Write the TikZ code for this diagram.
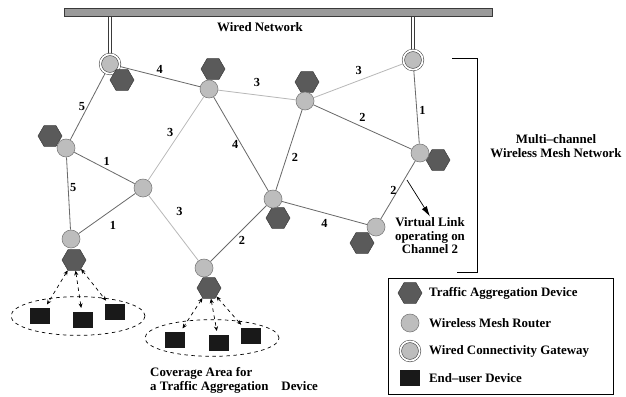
\documentclass[tikz,border=0pt]{standalone}
\usepackage{fontspec}
\setmainfont{Liberation Serif}
\usetikzlibrary{arrows.meta, shapes.geometric, calc, positioning, backgrounds}

\definecolor{hexfill}{HTML}{5A5A5A}
\definecolor{hexline}{HTML}{3A3A3A}
\definecolor{routerfill}{HTML}{BDBDBD}
\definecolor{routerline}{HTML}{7A7A7A}
\definecolor{linkdark}{HTML}{6A6A6A}
\definecolor{linklight}{HTML}{B8B8B8}
\definecolor{barfill}{HTML}{9A9A9A}

\begin{document}
\begin{tikzpicture}[x=0.03cm, y=-0.03cm, font=\fontsize{11}{12.5}\selectfont\bfseries,
    tad/.style={regular polygon, regular polygon sides=6, minimum size=0.72cm, inner sep=0pt, fill=hexfill, draw=hexline, line width=0.4pt},
    router/.style={circle, minimum size=0.54cm, inner sep=0pt, fill=routerfill, draw=routerline, line width=0.5pt},
    gateway/.style={router, minimum size=0.58cm, double=white, double distance=1.5pt, draw=hexline, line width=0.45pt},
    enduser/.style={rectangle, minimum width=0.6cm, minimum height=0.5cm, inner sep=0pt, fill=black!90},
    cover/.style={ellipse, draw, dashed, line width=0.6pt, minimum width=4.02cm, minimum height=1.16cm},
    link/.style={draw=linkdark, line width=0.7pt},
    linkB/.style={draw=linklight, line width=0.7pt},
    uplink/.style={draw=hexline, double=white, double distance=2.4pt, line width=0.5pt},
    access/.style={dashed, line width=0.6pt, {Stealth[length=4pt, width=3.5pt]}-{Stealth[length=4pt, width=3.5pt]}, shorten >=3pt},
    ch/.style={inner sep=2pt, font=\fontsize{10.5}{12}\selectfont\bfseries}]

    \useasboundingbox (0, 0) rectangle (626, 396);

    % wired backbone
    \node[rectangle, minimum width=12.84cm, minimum height=0.24cm, inner sep=0pt, fill=barfill, draw=hexline, line width=0.5pt] (bar) at (278, 12) {};
    \node (wired) at (260, 27) {Wired Network};

    % aggregation devices, routers sit on top of them
    \node[tad] (hRa) at (213, 69) {};
    \node[tad] (hRb) at (307, 82) {};
    \node[tad] (hRc) at (50, 136) {};
    \node[tad] (hRe) at (74, 260) {};
    \node[tad] (hRf) at (209, 288) {};
    \node[tad] (hRg) at (278, 218) {};
    \node[tad] (hRh) at (438, 160) {};
    \node[tad] (hRi) at (362, 243) {};

    \node[gateway] (G1) at (110, 64) {};
    \node[gateway] (G2) at (413, 60) {};
    \node[tad] (hG1) at ($(G1) + (12, 16)$) {};

    \node[router] (Ra) at (209, 89) {};
    \node[router] (Rb) at (305, 101) {};
    \node[router] (Rc) at (66, 148) {};
    \node[router] (Rd) at (143, 188) {};
    \node[router] (Re) at (71, 239) {};
    \node[router] (Rf) at (204, 268) {};
    \node[router] (Rg) at (273, 199) {};
    \node[router] (Rh) at (420, 153) {};
    \node[router] (Ri) at (376, 227) {};

    % links with their channel numbers
    \begin{scope}[on background layer]
        \draw[uplink] (G1) -- (G1 |- bar.south);
        \draw[uplink] (G2) -- (G2 |- bar.south);

        \draw[link] (G1) -- node[ch, above] {4} (Ra);
        \draw[linkB] (Ra) -- node[ch, above=5pt] {3} (Rb);
        \draw[linkB] (Rb) -- node[ch, above=3pt] {3} (G2);
        \draw[link] (G1) -- node[ch, left] {5} (Rc);
        \draw[link] (Rc) -- node[ch, right, inner sep=1pt, yshift=5] {5} (Re);
        \draw[link] (Rc) -- node[ch, above right, xshift=-3] {1} (Rd);
        \draw[link] (Rd) -- node[ch, below right, yshift=-4] {1} (Re);
        \draw[linkB] (Ra) -- node[ch, left, yshift=5] {3} (Rd);
        \draw[linkB] (Rd) -- node[ch, above right, yshift=8] {3} (Rf);
        \draw[link] (Ra) -- node[ch, left] {4} (Rg);
        \draw[link] (Rb) -- node[ch, right, yshift=-6] {2} (Rg);
        \draw[link] (Rb) -- node[ch, above, yshift=2] {2} (Rh);
        \draw[link] (G2) -- node[ch, right, yshift=-3] {1} (Rh);
        \draw[link] (Rh) -- node[ch, left, inner sep=1pt] {2} (Ri);
        \draw[link] (Rg) -- node[ch, below, yshift=-3] {4} (Ri);
        \draw[link] (Rg) -- node[ch, below right, xshift=-2] {2} (Rf);
    \end{scope}

    % virtual link note
    \node[align=center, inner sep=1pt] (vtext) at (430, 236) {Virtual Link\\[-1pt]operating on\\[-1pt]Channel 2};
    \coordinate (vl) at (407, 180);
    \draw[line width=0.6pt, -{Latex[length=9pt, width=5pt]}] (vl) -- (vtext.north);

    % bracket round the mesh
    \draw[line width=0.6pt] (452, 58) -- (477, 58) -- (477, 272) -- (457, 272);
    \node[align=center] (mesh) at (556, 146) {Multi--channel\\[-1pt]Wireless Mesh Network};

    % end users and coverage areas
    \node[cover] (cov1) at (78, 316) {};
    \node[enduser] (u1) at (40, 316) {};
    \node[enduser] (u2) at (83, 320) {};
    \node[enduser] (u3) at (115, 312) {};
    \draw[access] (hRe) -- (u1);
    \draw[access] (hRe) -- (u2);
    \draw[access] (hRe) -- (u3);

    \node[cover, minimum height=1.1cm] (cov2) at (212, 338) {};
    \node[enduser] (u4) at (175, 340) {};
    \node[enduser] (u5) at (219, 343) {};
    \node[enduser] (u6) at (251, 336) {};
    \draw[access] (hRf) -- (u4);
    \draw[access] (hRf) -- (u5);
    \draw[access] (hRf) -- (u6);

    \node[align=left, anchor=north west, inner sep=0pt] (covtext) at (150, 367) {Coverage Area for\\a Traffic Aggregation\quad Device};

    % legend
    \draw[line width=0.7pt] (388, 278) rectangle (613, 394);
    \node[tad] (kTad) at (410, 293) {};
    \node[router] (kRouter) at (410, 323) {};
    \node[gateway] (kGateway) at (410, 351) {};
    \node[enduser] (kUser) at (410, 378) {};
    \node[anchor=west] at (425, 293) {Traffic Aggregation Device};
    \node[anchor=west] at (425, 323) {Wireless Mesh Router};
    \node[anchor=west] at (425, 351) {Wired Connectivity Gateway};
    \node[anchor=west] at (425, 378) {End--user Device};
\end{tikzpicture}
\end{document}
